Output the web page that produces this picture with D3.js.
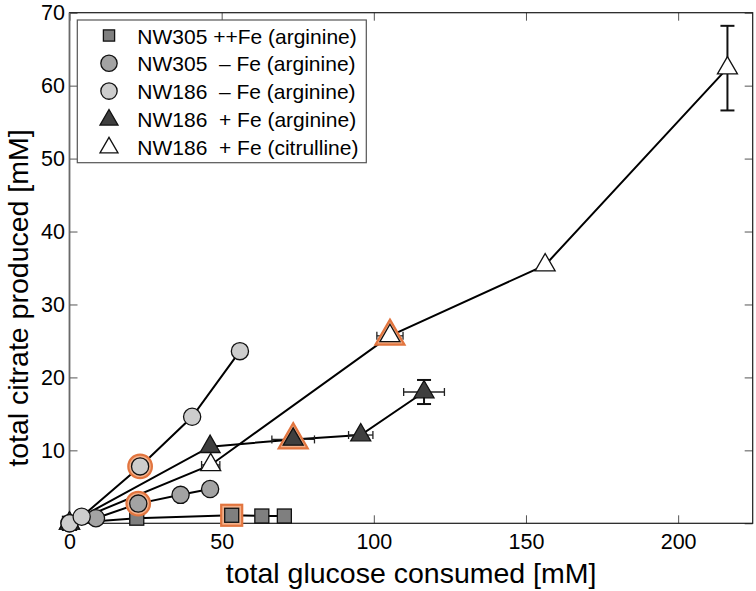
<!DOCTYPE html>
<html><head><meta charset="utf-8">
<script src="https://cdn.jsdelivr.net/npm/d3@7"></script>
<style>
html,body{margin:0;padding:0;background:#fff;}
text{font-family:"Liberation Sans",Arial,Helvetica,sans-serif;}
</style></head>
<body><svg id="c" width="756" height="591"></svg>
<script>
// ---- data ----
const xTicks = [0, 50, 100, 150, 200];
const yTicks = [10, 20, 30, 40, 50, 60, 70];
const yTickMarks = [0, 10, 20, 30, 40, 50, 60, 70];

const sqX = [0, 22.1, 53.3, 63.2, 70.6];
const sqY = [0, 0.7, 1.1, 1.0, 1.0];
const sqHi = [0, 0, 1, 0, 0];

const midX = [0, 8.7, 22.6, 36.5, 46.2];
const midY = [0, 0.7, 2.7, 3.9, 4.7];
const midHi = [0, 0, 1, 0, 0];

const lightX = [0, 4.0, 23.2, 40.3, 56.0];
const lightY = [0, 0.9, 7.8, 14.6, 23.6];
const lightHi = [0, 0, 1, 0, 0];

const darkX = [0, 46.2, 73.5, 95.7, 116.5];
const darkY = [0, 10.5, 11.5, 12.1, 18.0];
const darkErrX = [0, 0, 7.0, 4.0, 6.7];
const darkErrY = [0, 0, 0, 0, 1.65];
const darkHi = [0, 0, 1, 0, 0];

const openX = [0, 46.4, 105.3, 156.3, 216.2];
const openY = [0, 8.0, 25.7, 35.4, 62.4];
const openErrX = [0, 3.0, 4.3, 0, 0];
const openErrY = [0, 0, 0, 0, 5.8];
const openHi = [0, 0, 1, 0, 0];

const legendLabels = [
  "NW305 ++Fe (arginine)",
  "NW305  \u2013 Fe (arginine)",
  "NW186  \u2013 Fe (arginine)",
  "NW186  + Fe (arginine)",
  "NW186  + Fe (citrulline)"
];

// ---- layout ----
const L = 69.5, R = 752.7, T = 12.7, B = 523.3;
const svg = d3.select("#c");
const x = d3.scaleLinear().domain([0, 224.5]).range([L, R]);
const y = d3.scaleLinear().domain([0, 70]).range([B, T]);

const zip = (xs, ys, ex, ey, hi) => xs.map((v, i) => ({x: v, y: ys[i], ex: ex ? ex[i] : 0, ey: ey ? ey[i] : 0, hi: hi ? hi[i] : 0}));

const series = [
  {name: "sq", shape: "square", fill: "#7f7f7f", data: zip(sqX, sqY, null, null, sqHi)},
  {name: "open", shape: "tri", fill: "#ffffff", data: zip(openX, openY, openErrX, openErrY, openHi)},
  {name: "dark", shape: "tri", fill: "#3f3f3f", data: zip(darkX, darkY, darkErrX, darkErrY, darkHi)},
  {name: "mid", shape: "circle", fill: "#a3a3a3", data: zip(midX, midY, null, null, midHi)},
  {name: "light", shape: "circle", fill: "#cdcdcd", data: zip(lightX, lightY, null, null, lightHi)}
];

// axes
const gx = svg.append("g").attr("transform", `translate(0,${B})`)
  .call(d3.axisBottom(x).tickValues(xTicks).tickSizeInner(-8).tickSizeOuter(0).tickPadding(10.8));
const gy = svg.append("g").attr("transform", `translate(${L},0)`)
  .call(d3.axisLeft(y).tickValues(yTicks).tickSizeInner(-8).tickSizeOuter(0).tickPadding(4.5));
const gx2 = svg.append("g").attr("transform", `translate(0,${T})`)
  .call(d3.axisTop(x).tickValues(xTicks).tickSizeInner(-8).tickSizeOuter(0).tickFormat(""));
const gy2 = svg.append("g").attr("transform", `translate(${R},0)`)
  .call(d3.axisRight(y).tickValues(yTickMarks).tickSizeInner(-8).tickSizeOuter(0).tickFormat(""));
[gx, gy, gx2, gy2].forEach(g => {
  g.select(".domain").remove();
  g.selectAll(".tick line").attr("stroke", "#555").attr("stroke-width", 1);
  g.selectAll("text").attr("font-size", 21.5).attr("fill", "#000")
    .attr("font-family", "'Liberation Sans', Arial, sans-serif");
});
svg.append("rect").attr("x", L).attr("y", T).attr("width", R - L).attr("height", B - T)
  .attr("fill", "none").attr("stroke", "#1a1a1a").attr("stroke-width", 1.2);
svg.append("line").attr("x1", L).attr("x2", L).attr("y1", T).attr("y2", B)
  .attr("stroke", "#6a6a6a").attr("stroke-width", 1.6);

// axis labels
svg.append("text").attr("x", (L + R) / 2).attr("y", 583).attr("text-anchor", "middle")
  .attr("font-size", 28.5).text("total glucose consumed [mM]");
svg.append("text").attr("transform", `translate(28,${(T + B) / 2 + 30}) rotate(-90)`)
  .attr("text-anchor", "middle").attr("font-size", 28.5).text("total citrate produced [mM]");

// lines
const line = d3.line().x(d => x(d.x)).y(d => y(d.y));
series.forEach(s => {
  svg.append("path").datum(s.data).attr("d", line)
    .attr("fill", "none").attr("stroke", "#000").attr("stroke-width", 2);
});

// marker helper
function triPath(cx, cy, side) {
  const h = side * Math.sqrt(3) / 2;
  return `M${cx},${cy - 2 * h / 3}L${cx + side / 2},${cy + h / 3}L${cx - side / 2},${cy + h / 3}Z`;
}
function drawMarker(g, shape, cx, cy, fill, scale) {
  const k = scale || 1;
  if (shape === "square") {
    const s = 14 * k;
    g.append("rect").attr("x", cx - s / 2).attr("y", cy - s / 2).attr("width", s).attr("height", s)
      .attr("fill", fill).attr("stroke", "#111").attr("stroke-width", 1.3);
  } else if (shape === "circle") {
    g.append("circle").attr("cx", cx).attr("cy", cy).attr("r", 8.6 * k)
      .attr("fill", fill).attr("stroke", "#111").attr("stroke-width", 1.3);
  } else {
    g.append("path").attr("d", triPath(cx, cy, 20 * k))
      .attr("fill", fill).attr("stroke", "#111").attr("stroke-width", 1.3);
  }
}
function drawHighlight(g, shape, cx, cy) {
  const st = {stroke: "#e2753f", "stroke-width": 2.2, fill: "#f3b08a"};
  let el;
  if (shape === "square") {
    el = g.append("rect").attr("x", cx - 10.5).attr("y", cy - 10.5).attr("width", 21).attr("height", 21);
  } else if (shape === "circle") {
    el = g.append("circle").attr("cx", cx).attr("cy", cy).attr("r", 11.8);
  } else {
    el = g.append("path").attr("d", triPath(cx, cy + 0.5, 29));
  }
  Object.entries(st).forEach(([k, v]) => el.attr(k, v));
}

// error bars + markers
series.forEach(s => {
  const g = svg.append("g");
  s.data.forEach(d => {
    const cx = x(d.x), cy = y(d.y);
    if (d.ex > 0) {
      g.append("line").attr("x1", x(d.x - d.ex)).attr("x2", x(d.x + d.ex)).attr("y1", cy).attr("y2", cy)
        .attr("stroke", "#222").attr("stroke-width", 1.3);
      [d.x - d.ex, d.x + d.ex].forEach(v => g.append("line").attr("x1", x(v)).attr("x2", x(v))
        .attr("y1", cy - 4).attr("y2", cy + 4).attr("stroke", "#222").attr("stroke-width", 1.3));
    }
    if (d.ey > 0) {
      g.append("line").attr("x1", cx).attr("x2", cx).attr("y1", y(d.y - d.ey)).attr("y2", y(d.y + d.ey))
        .attr("stroke", "#111").attr("stroke-width", 2);
      [d.y - d.ey, d.y + d.ey].forEach(v => g.append("line").attr("x1", cx - 7).attr("x2", cx + 7)
        .attr("y1", y(v)).attr("y2", y(v)).attr("stroke", "#111").attr("stroke-width", 2));
    }
    if (d.hi) drawHighlight(g, s.shape, cx, cy);
    drawMarker(g, s.shape, cx, cy, s.fill);
  });
});

// legend
const lg = svg.append("g");
lg.append("rect").attr("x", 77.3).attr("y", 20).attr("width", 289).attr("height", 142.7)
  .attr("fill", "#fff").attr("stroke", "#555").attr("stroke-width", 1.2);
const legendSeries = [series[0], series[3], series[4], series[2], series[1]];
legendSeries.forEach((s, i) => {
  const cy = 35.5 + i * 27.8;
  drawMarker(lg, s.shape, 109, cy + (s.shape === "tri" ? 1 : 0), s.fill, s.shape === "square" ? 0.8 : (s.shape === "tri" ? 0.9 : 0.95));
  lg.append("text").attr("x", 137.3).attr("y", cy + 8).attr("font-size", 21)
    .attr("xml:space", "preserve").style("white-space", "pre").text(legendLabels[i]);
});
</script>
</body></html>
